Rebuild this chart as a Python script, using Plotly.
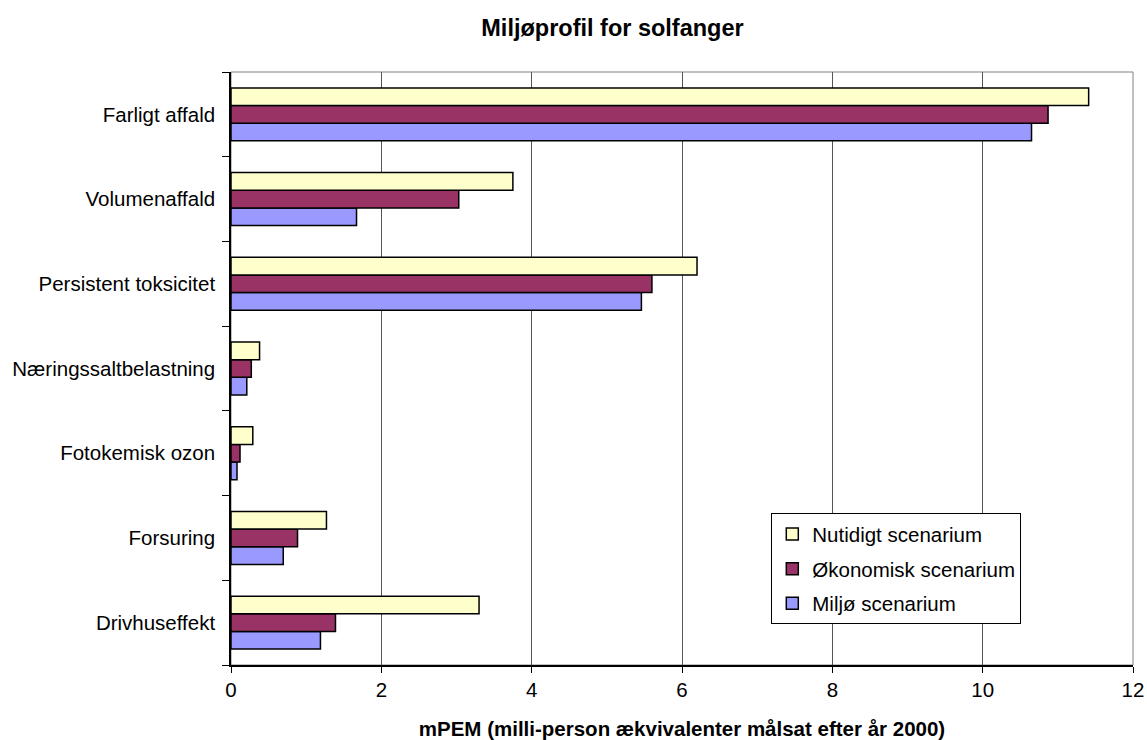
import plotly.graph_objects as go

# Impact categories, listed top to bottom as they appear in the chart
categories = [
    "Farligt affald",
    "Volumenaffald",
    "Persistent toksicitet",
    "Næringssaltbelastning",
    "Fotokemisk ozon",
    "Forsuring",
    "Drivhuseffekt",
]

# mPEM per scenario, same order as categories
nutidigt = [11.41, 3.75, 6.20, 0.38, 0.29, 1.27, 3.30]
okonomisk = [10.87, 3.03, 5.60, 0.27, 0.12, 0.885, 1.39]
miljo = [10.65, 1.67, 5.46, 0.21, 0.08, 0.695, 1.19]

series_names = ["Nutidigt scenarium", "Økonomisk scenarium", "Miljø scenarium"]
x_ticks = [0, 2, 4, 6, 8, 10, 12]

FONT = "Arial, Liberation Sans, sans-serif"
LABEL_SIZE = 20.5
colors = {"Nutidigt scenarium": "#FFFFCC",
          "Økonomisk scenarium": "#993366",
          "Miljø scenarium": "#9999FF"}
values = {"Nutidigt scenarium": nutidigt,
          "Økonomisk scenarium": okonomisk,
          "Miljø scenarium": miljo}

fig = go.Figure()
# Plotly stacks grouped horizontal bars bottom-up, so add the last series first
for name in reversed(series_names):
    fig.add_trace(go.Bar(
        y=categories,
        x=values[name],
        name=name,
        orientation="h",
        legendgroup=name,
        legendrank=series_names.index(name) + 1,
        marker=dict(color=colors[name], line=dict(color="#000000", width=1.5)),
    ))

fig.update_layout(
    width=1147,
    height=740,
    margin=dict(l=231, r=14, t=72, b=75),
    paper_bgcolor="white",
    plot_bgcolor="white",
    barmode="group",
    bargap=0.375,
    bargroupgap=0,
    font=dict(family=FONT, color="#000000", size=LABEL_SIZE),
    title=dict(
        text="<b>Miljøprofil for solfanger</b>",
        x=0.534, xanchor="center",
        y=0.963, yanchor="middle",
        font=dict(family=FONT, size=23.5, color="#000000"),
    ),
    xaxis=dict(
        range=[0, 12],
        tickvals=x_ticks,
        ticktext=[str(v) for v in x_ticks],
        showgrid=True,
        gridcolor="#555555",
        gridwidth=1,
        zeroline=False,
        showline=True,
        linecolor="#000000",
        linewidth=1.5,
        ticks="outside",
        ticklen=6,
        tickcolor="#000000",
        tickfont=dict(family=FONT, size=LABEL_SIZE),
        title=dict(
            text="<b>mPEM (milli-person ækvivalenter målsat efter år 2000)</b>",
            font=dict(family=FONT, size=20.5),
            standoff=23,
        ),
        automargin=False,
        fixedrange=True,
    ),
    yaxis=dict(
        type="category",
        categoryorder="array",
        categoryarray=list(reversed(categories)),
        showgrid=False,
        zeroline=False,
        showline=True,
        linecolor="#000000",
        linewidth=1.5,
        ticks="outside",
        tickson="boundaries",
        ticklen=7,
        tickcolor="#000000",
        tickfont=dict(family=FONT, size=LABEL_SIZE),
        ticklabelstandoff=10,
        automargin=False,
        fixedrange=True,
    ),
    legend=dict(
        x=0.599, xanchor="left",
        y=0.256, yanchor="top",
        bgcolor="white",
        bordercolor="#000000",
        borderwidth=1,
        traceorder="grouped",
        tracegroupgap=5,
        font=dict(family=FONT, size=LABEL_SIZE),
        itemwidth=30,
    ),
    showlegend=True,
)

# Thin grey frame around the plot area (top and right edges)
fig.add_shape(type="rect", xref="paper", yref="paper", x0=0, y0=0, x1=1, y1=1,
              line=dict(color="#808080", width=1), layer="below")

fig.write_html("out.html")
